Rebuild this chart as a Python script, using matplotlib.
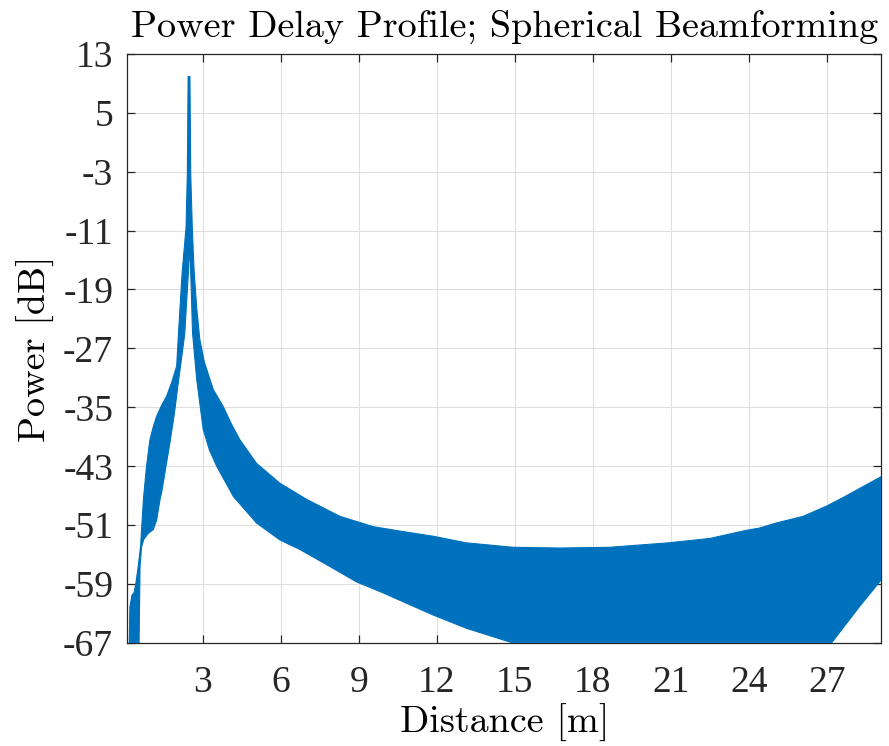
import numpy as np
import matplotlib
matplotlib.use('Agg')
import matplotlib.pyplot as plt

# envelope of the dense oscillating PDP trace
upper_x = [0.16, 0.165, 0.19, 0.27, 0.35, 0.42, 0.51, 0.60, 0.71, 0.83, 0.96, 1.10, 1.22,
           1.40, 1.60, 1.80, 1.99, 2.06, 2.20, 2.35, 2.40, 2.43, 2.50, 2.53, 2.59, 2.66,
           2.76, 2.88, 3.05, 3.27, 3.40, 3.78, 4.10, 4.42, 5.06, 5.96, 6.99, 8.27, 9.55,
           10.58, 11.86, 13.14, 14.93, 16.73, 18.65, 20.90, 22.50, 23.90, 24.40, 25.06,
           26.09, 27.00, 27.60, 28.27, 29.10]
upper_y = [-75, -67, -62.1, -60.5, -60.2, -58.9, -56.6, -53.9, -47.5, -43.0, -39.4, -37.5,
           -36.2, -34.8, -33.5, -31.6, -29.4, -24.9, -16.7, -10.6, -3.3, 9.9, 9.9, -3.3,
           -10.6, -16.5, -21.5, -25.8, -28.8, -31.2, -32.6, -34.9, -37.3, -39.4, -42.6,
           -45.3, -47.5, -49.8, -51.2, -51.8, -52.5, -53.4, -54.0, -54.1, -54.0, -53.4,
           -52.8, -51.7, -51.4, -50.7, -49.8, -48.4, -47.3, -46.0, -44.4]

lower_x = [0.16, 0.50, 0.53, 0.55, 0.58, 0.64, 0.73, 0.90, 1.09, 1.22, 1.35, 1.41, 1.73,
           1.90, 2.05, 2.18, 2.30, 2.44, 2.48, 2.53, 2.60, 2.76, 3.01, 3.25, 3.53, 4.17,
           5.06, 5.96, 6.73, 7.88, 8.91, 9.94, 10.96, 11.86, 13.14, 14.93, 16.5, 20.0,
           24.0, 26.5, 27.18, 28.27, 29.10]
lower_y = [-75, -75, -70, -65, -56.6, -53.9, -52.9, -52.1, -51.6, -50.3, -47.5, -46.6,
           -39.8, -35.9, -31.7, -28.3, -25.0, -16.7, -13.1, -16.7, -24.9, -31.2, -38.0,
           -40.8, -43.0, -47.1, -50.7, -53.0, -54.3, -56.6, -58.7, -60.2, -61.8, -63.2,
           -65.0, -67.0, -69.0, -70.5, -70.0, -68.5, -67.0, -62.0, -58.4]

x_ticks = [3, 6, 9, 12, 15, 18, 21, 24, 27]
y_ticks = [13, 5, -3, -11, -19, -27, -35, -43, -51, -59, -67]

blue = '#0072BD'
plt.rcParams['font.family'] = ['cmr10', 'DejaVu Serif']
plt.rcParams['axes.unicode_minus'] = False

fig = plt.figure(figsize=(8.89, 7.46), dpi=100)
ax = fig.add_axes([0.1429, 0.138, 0.8485, 0.79])

px = np.r_[upper_x, lower_x[::-1]]
py = np.r_[upper_y, lower_y[::-1]]
ax.fill(px, py, facecolor=blue, edgecolor=blue, linewidth=0.8, zorder=3)

ax.set_xlim(0.08, 29.1)
ax.set_ylim(-67, 13)
ax.set_xticks(x_ticks, labels=[str(t) for t in x_ticks])
ax.set_yticks(y_ticks, labels=[str(t) for t in y_ticks])
for lab in ax.get_xticklabels() + ax.get_yticklabels():
    lab.set_fontfamily('Liberation Serif')
    lab.set_fontsize(27)

ax.grid(True, color='#dfdfdf', linewidth=0.8)
ax.set_axisbelow(True)
for s in ax.spines.values():
    s.set_color('#262626')
    s.set_linewidth(0.9)
ax.tick_params(direction='in', length=6, width=0.9, colors='#262626',
               top=True, right=True)
ax.tick_params(axis='x', pad=16)
ax.tick_params(axis='y', pad=10)

ax.set_title('Power Delay Profile; Spherical Beamforming', fontsize=27.5, pad=12)
ax.set_xlabel('Distance [m]', fontsize=27.5, labelpad=3)
ax.set_ylabel('Power [dB]', fontsize=27.5, labelpad=6)

plt.savefig('out.png', dpi=100)
